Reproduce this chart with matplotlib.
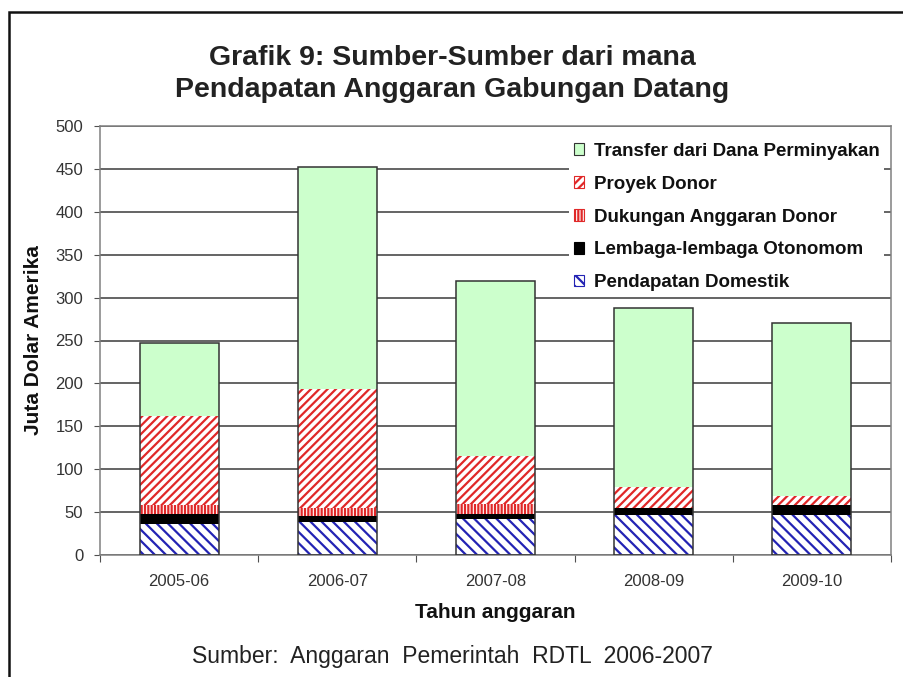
import matplotlib
matplotlib.use('Agg')
import matplotlib.pyplot as plt
from matplotlib.patches import Rectangle, Patch
import numpy as np

# data (juta dolar Amerika)
tahun = ['2005-06', '2006-07', '2007-08', '2008-09', '2009-10']
pendapatan_domestik = [36, 38, 42, 47, 47]
lembaga_otonom = [12, 7, 6, 8, 11]
dukungan_anggaran = [10, 10, 12, 0, 0]
proyek_donor = [104, 138, 55, 24, 11]
transfer_minyak = [85, 259, 204, 209, 201]

plt.rcParams['font.family'] = ['Liberation Sans', 'DejaVu Sans']
plt.rcParams['hatch.linewidth'] = 1.6

red = '#e02828'
blue = '#2323b4'
green = '#ccffcc'

fig = plt.figure(figsize=(9.04, 6.77), dpi=100)
ax = fig.add_axes([100 / 904, 1 - 555 / 677, 791 / 904, 429 / 677])

x = np.arange(len(tahun))
w = 0.5
series = [
    (pendapatan_domestik, dict(color='white', edgecolor=blue, hatch='\\\\\\', linewidth=0)),
    (lembaga_otonom, dict(color='black', linewidth=0)),
    (dukungan_anggaran, dict(color='white', edgecolor=red, hatch='|||||', linewidth=0)),
    (proyek_donor, dict(color='white', edgecolor=red, hatch='////', linewidth=0)),
    (transfer_minyak, dict(color=green, linewidth=0)),
]
bottom = np.zeros(len(tahun))
for vals, style in series:
    ax.bar(x, vals, w, bottom=bottom, zorder=2, **style)
    bottom += np.array(vals)
# outline of each full bar
ax.bar(x, bottom, w, fill=False, edgecolor='#333333', linewidth=1.1, zorder=3)

ax.set_ylim(0, 500)
ax.set_xlim(-0.5, len(tahun) - 0.5)
ax.set_yticks(range(0, 501, 50))
ax.yaxis.grid(True, color='#3a3a3a', linewidth=1.1)
ax.set_axisbelow(True)
for s in ax.spines.values():
    s.set_color('#808080')
    s.set_linewidth(1.1)

ax.set_xticks(np.arange(-0.5, len(tahun), 1))
ax.set_xticklabels([])
ax.set_xticks(x, minor=True)
ax.set_xticklabels(tahun, minor=True)
ax.tick_params(axis='x', which='major', direction='out', length=5, color='#505050')
ax.tick_params(axis='x', which='minor', length=0, pad=14, labelsize=12, labelcolor='#333333')
ax.tick_params(axis='y', direction='out', length=4, pad=8, color='#505050',
               labelsize=12, labelcolor='#333333')

fig.text(34 / 904, 1 - 340 / 677, 'Juta Dolar Amerika', rotation=90, ha='center', va='center',
         fontsize=15, fontweight='bold', color='#111111')
fig.text(495 / 904, 1 - 618 / 677, 'Tahun anggaran', ha='center', va='baseline',
         fontsize=15, fontweight='bold', color='#111111')

fig.text(0.5, 1 - 65 / 677, 'Grafik 9: Sumber-Sumber dari mana', ha='center', va='baseline',
         fontsize=20.5, fontweight='bold', color='#222222')
fig.text(0.5, 1 - 97 / 677, 'Pendapatan Anggaran Gabungan Datang', ha='center', va='baseline',
         fontsize=20.5, fontweight='bold', color='#222222')
fig.text(0.5, 1 - 663 / 677, 'Sumber:  Anggaran  Pemerintah  RDTL  2006-2007', ha='center',
         va='baseline', fontsize=16.5, color='#222222')

handles = [
    Patch(facecolor=green, edgecolor='#333333', linewidth=0.8),
    Patch(facecolor='white', edgecolor=red, hatch='////', linewidth=0.8),
    Patch(facecolor='white', edgecolor=red, hatch='|||||', linewidth=0.8),
    Patch(facecolor='black', edgecolor='black', linewidth=0.8),
    Patch(facecolor='white', edgecolor=blue, hatch='\\\\\\', linewidth=0.8),
]
labels = ['Transfer dari Dana Perminyakan', 'Proyek Donor', 'Dukungan Anggaran Donor',
          'Lembaga-lembaga Otonomom', 'Pendapatan Domestik']
leg = ax.legend(handles, labels, loc='upper right', bbox_to_anchor=(884 / 904, 1 - 138 / 677),
                bbox_transform=fig.transFigure, frameon=True, fancybox=False, framealpha=1,
                edgecolor='none', facecolor='white', borderaxespad=0, borderpad=0.25,
                handlelength=0.55, handleheight=0.55, handletextpad=0.5, labelspacing=0.85,
                prop={'weight': 'bold', 'size': 13.5})
for t in leg.get_texts():
    t.set_color('#111111')

# outer frame of the figure box
fig.patches.append(Rectangle((8.5 / 904, -0.1), 1.2, 1.1 - 11.5 / 677, transform=fig.transFigure,
                             fill=False, edgecolor='#111111', linewidth=1.8))

fig.savefig('out.png', dpi=100)
